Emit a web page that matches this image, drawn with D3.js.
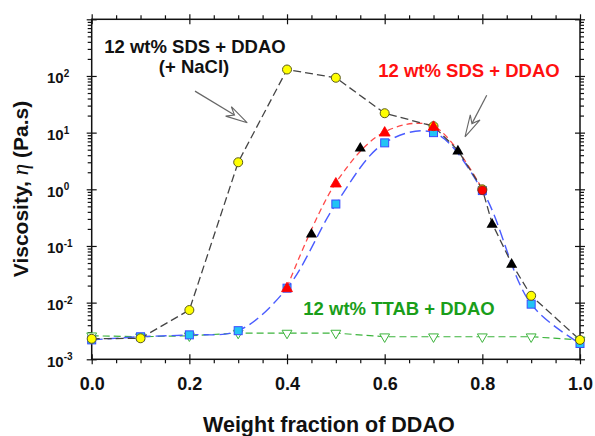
<!DOCTYPE html>
<html><head><meta charset="utf-8">
<script src="https://cdn.jsdelivr.net/npm/d3@7"></script>
<style>body{margin:0;background:#fff}svg{display:block}</style>
</head><body>
<svg id="c" width="595" height="436"></svg>
<script>
// ---- data ----
const xMajor = [0, 0.2, 0.4, 0.6, 0.8, 1.0];
const xTickLabels = ["0.0", "0.2", "0.4", "0.6", "0.8", "1.0"];
const yExponents = [-3, -2, -1, 0, 1, 2];
const fracX = [0, 0.1, 0.2, 0.3, 0.4, 0.5, 0.6, 0.7, 0.8, 0.9, 1.0];
const naclY = [2.3e-3, 2.35e-3, 7.4e-3, 3.0, 130, 93, 22, 13, 1.0, 0.0132, 2.2e-3];
const sdsX = [0.4, 0.5, 0.6, 0.7, 0.8];
const sdsY = [0.0185, 1.3, 10.3, 13, 1.0];
const blueY = [2.2e-3, 2.5e-3, 2.7e-3, 3.2e-3, 0.018, 0.55, 6.6, 10, 0.95, 9.4e-3, 1.9e-3];
const blackTriX = [0.45, 0.55, 0.75, 0.82, 0.86];
const blackTriY = [0.167, 5.5, 4.9, 0.25, 0.049];
const ttabY = [2.6e-3, 2.5e-3, 2.6e-3, 2.9e-3, 2.9e-3, 2.9e-3, 2.5e-3, 2.5e-3, 2.5e-3, 2.5e-3, 2.2e-3];
const labelBlack = ["12 wt% SDS + DDAO", "(+ NaCl)"];
const labelRed = "12 wt% SDS + DDAO";
const labelGreen = "12 wt% TTAB + DDAO";

// ---- setup ----
const svg = d3.select("#c");
const L = 91.7, R = 580, T = 19.3, B = 359.3;
const x = d3.scaleLinear().domain([0, 1]).range([L, R]);
const y = d3.scaleLog().domain([1e-3, 1e3]).range([B, T]);
const FONT = "'Liberation Sans', Arial, sans-serif";

const zip = (xs, ys) => xs.map((v, i) => [v, ys[i]]);
const nacl = zip(fracX, naclY);
const sds = zip(sdsX, sdsY);
const blue = zip(fracX, blueY);
const blackTri = zip(blackTriX, blackTriY);
const ttab = zip(fracX, ttabY);

// ---- axes ----
const minorX = d3.range(0, 20.5, 1).map(i => i / 20).filter(v => Math.round(v * 20) % 4 !== 0);
const minorY = [];
for (let e = -3; e < 3; e++) for (let k = 2; k <= 9; k++) minorY.push(k * Math.pow(10, e));
const majorY = d3.range(-3, 4).map(e => Math.pow(10, e));

function styleAxis(g) {
  g.select(".domain").remove();
  g.selectAll("line").attr("stroke", "#111").attr("stroke-width", 1.2);
}
// bottom
svg.append("g").attr("transform", `translate(0,${B})`)
  .call(d3.axisBottom(x).tickValues(minorX).tickSize(4).tickFormat("")).call(styleAxis);
svg.append("g").attr("transform", `translate(0,${B})`)
  .call(d3.axisBottom(x).tickValues(xMajor).tickSize(-5).tickFormat("")).call(styleAxis);
const gxb = svg.append("g").attr("transform", `translate(0,${B})`)
  .call(d3.axisBottom(x).tickValues(xMajor).tickSize(5).tickFormat((d, i) => xTickLabels[i])).call(styleAxis);
gxb.selectAll("text").attr("y", 31).attr("dy", 0)
  .attr("font-family", FONT).attr("font-weight", "bold").attr("font-size", 18).attr("fill", "#111");
// top
svg.append("g").attr("transform", `translate(0,${T})`)
  .call(d3.axisTop(x).tickValues(minorX).tickSize(4).tickFormat("")).call(styleAxis);
svg.append("g").attr("transform", `translate(0,${T})`)
  .call(d3.axisTop(x).tickValues(xMajor).tickSize(5).tickFormat("")).call(styleAxis);
svg.append("g").attr("transform", `translate(0,${T})`)
  .call(d3.axisTop(x).tickValues(xMajor).tickSize(-5).tickFormat("")).call(styleAxis);
// left
svg.append("g").attr("transform", `translate(${L},0)`)
  .call(d3.axisLeft(y).tickValues(minorY).tickSize(4).tickFormat("")).call(styleAxis);
svg.append("g").attr("transform", `translate(${L},0)`)
  .call(d3.axisLeft(y).tickValues(majorY).tickSize(-5).tickFormat("")).call(styleAxis);
const gyl = svg.append("g").attr("transform", `translate(${L},0)`)
  .call(d3.axisLeft(y).tickValues(majorY).tickSize(5).tickFormat("")).call(styleAxis);
gyl.selectAll(".tick").each(function (d) {
  const e = Math.round(Math.log10(d));
  if (!yExponents.includes(e)) return;
  const t = d3.select(this).select("text")
    .attr("x", -44.7).attr("y", 7).attr("dy", 0).attr("text-anchor", "start")
    .attr("font-family", FONT).attr("font-weight", "bold").attr("font-size", 15).attr("fill", "#111");
  t.append("tspan").text("10");
  t.append("tspan").attr("dy", -6.5).attr("font-size", 10).text(e);
});
// right
svg.append("g").attr("transform", `translate(${R},0)`)
  .call(d3.axisRight(y).tickValues(minorY).tickSize(4).tickFormat("")).call(styleAxis);
svg.append("g").attr("transform", `translate(${R},0)`)
  .call(d3.axisRight(y).tickValues(majorY).tickSize(5).tickFormat("")).call(styleAxis);
svg.append("g").attr("transform", `translate(${R},0)`)
  .call(d3.axisRight(y).tickValues(majorY).tickSize(-5).tickFormat("")).call(styleAxis);

svg.append("rect").attr("x", L).attr("y", T).attr("width", R - L).attr("height", B - T)
  .attr("fill", "none").attr("stroke", "#111").attr("stroke-width", 1.5);

// axis titles
svg.append("text").attr("x", (L + R) / 2 - 7).attr("y", 432).attr("text-anchor", "middle")
  .attr("font-family", FONT).attr("font-weight", "bold").attr("font-size", 21.5).attr("fill", "#111")
  .text("Weight fraction of DDAO");
const yt = svg.append("text").attr("transform", "translate(28,189) rotate(-90)").attr("text-anchor", "middle")
  .attr("font-family", FONT).attr("font-size", 21).attr("fill", "#111");
yt.append("tspan").attr("font-weight", "bold").text("Viscosity, ");
yt.append("tspan").attr("font-family", "'Liberation Serif', serif").attr("font-style", "italic").attr("font-size", 23).text("η");
yt.append("tspan").attr("font-weight", "bold").text(" (Pa.s)");

// ---- lines ----
const lineLin = d3.line().x(d => x(d[0])).y(d => y(d[1]));
const lineCurve = d3.line().x(d => x(d[0])).y(d => y(d[1])).curve(d3.curveCatmullRom.alpha(0.5));
const plot = svg.append("g");

// black dashed path: NaCl points, joined on the falling side by the black triangles
const blackPath = nacl.filter(d => d[0] <= 0.7)
  .concat(nacl.filter(d => d[0] > 0.7), blackTri.filter(d => d[0] > 0.7))
  .sort((a, b) => a[0] - b[0]);

plot.append("path").datum(ttab).attr("d", lineLin).attr("fill", "none")
  .attr("stroke", "#3cb43c").attr("stroke-width", 1.2).attr("stroke-dasharray", "7,4");
plot.append("path").datum(blue).attr("d", lineCurve).attr("fill", "none")
  .attr("stroke", "#4a5cff").attr("stroke-width", 1.4).attr("stroke-dasharray", "11,5");
plot.append("path").datum(sds).attr("d", lineCurve).attr("fill", "none")
  .attr("stroke", "#ff4a4a").attr("stroke-width", 1.3).attr("stroke-dasharray", "6,4");
plot.append("path").datum(blackPath).attr("d", lineLin).attr("fill", "none")
  .attr("stroke", "#444").attr("stroke-width", 1.3).attr("stroke-dasharray", "8,4");

// ---- markers ----
const sym = (type, size) => d3.symbol().type(type).size(size)();
plot.selectAll(".tt").data(ttab).join("path")
  .attr("transform", d => `translate(${x(d[0])},${y(d[1])}) rotate(180)`)
  .attr("d", sym(d3.symbolTriangle, 42)).attr("fill", "#fff").attr("stroke", "#3cb43c").attr("stroke-width", 1);
plot.selectAll(".bs").data(blue).join("rect")
  .attr("x", d => x(d[0]) - 4).attr("y", d => y(d[1]) - 4).attr("width", 8).attr("height", 8)
  .attr("fill", "#22c4f4").attr("stroke", "#3a4cff").attr("stroke-width", 1);
plot.selectAll(".yc").data(nacl).join("circle")
  .attr("cx", d => x(d[0])).attr("cy", d => y(d[1])).attr("r", 4.5)
  .attr("fill", "#ffff00").attr("stroke", "#5a5a20").attr("stroke-width", 1);
plot.selectAll(".rt").data(sds).join("path")
  .attr("transform", d => `translate(${x(d[0])},${y(d[1]) + 1})`)
  .attr("d", (d, i) => i === sds.length - 1 ? sym(d3.symbolCircle, 60) : sym(d3.symbolTriangle, 52))
  .attr("fill", "#ff0000").attr("stroke", (d, i) => i === sds.length - 1 ? "#802020" : "#ff0000").attr("stroke-width", 0.8);
plot.selectAll(".kt").data(blackTri).join("path")
  .attr("transform", d => `translate(${x(d[0])},${y(d[1]) + 1})`)
  .attr("d", sym(d3.symbolTriangle, 54)).attr("fill", "#000");

// ---- annotations ----
function arrow(x1, y1, x2, y2) {
  const ang = Math.atan2(y2 - y1, x2 - x1);
  const len = 22, hw = 5.5, notch = 15;
  const p = (d, w) => [x2 - d * Math.cos(ang) - w * Math.sin(ang), y2 - d * Math.sin(ang) + w * Math.cos(ang)];
  const n = p(notch, 0);
  svg.append("line").attr("x1", x1).attr("y1", y1).attr("x2", n[0]).attr("y2", n[1])
    .attr("stroke", "#666").attr("stroke-width", 1.2);
  svg.append("path").attr("d", d3.line()([[x2, y2], p(len, hw), n, p(len, -hw), [x2, y2]]))
    .attr("fill", "#fff").attr("stroke", "#666").attr("stroke-width", 1.1);
}
arrow(x(0.2115), y(54), x(0.3187), y(14.9));
arrow(x(0.809), y(45.8), x(0.7645), y(8.4));

const ann = (tx, ty, s, col) => svg.append("text").attr("x", tx).attr("y", ty).attr("text-anchor", "middle")
  .attr("font-family", FONT).attr("font-weight", "bold").attr("font-size", 18.5).attr("fill", col).text(s);
ann(195, 53, labelBlack[0], "#111");
ann(194, 73, labelBlack[1], "#111");
ann(469, 77, labelRed, "#ff1010");
ann(399, 315, labelGreen, "#1a9e1a");
</script>
</body></html>
